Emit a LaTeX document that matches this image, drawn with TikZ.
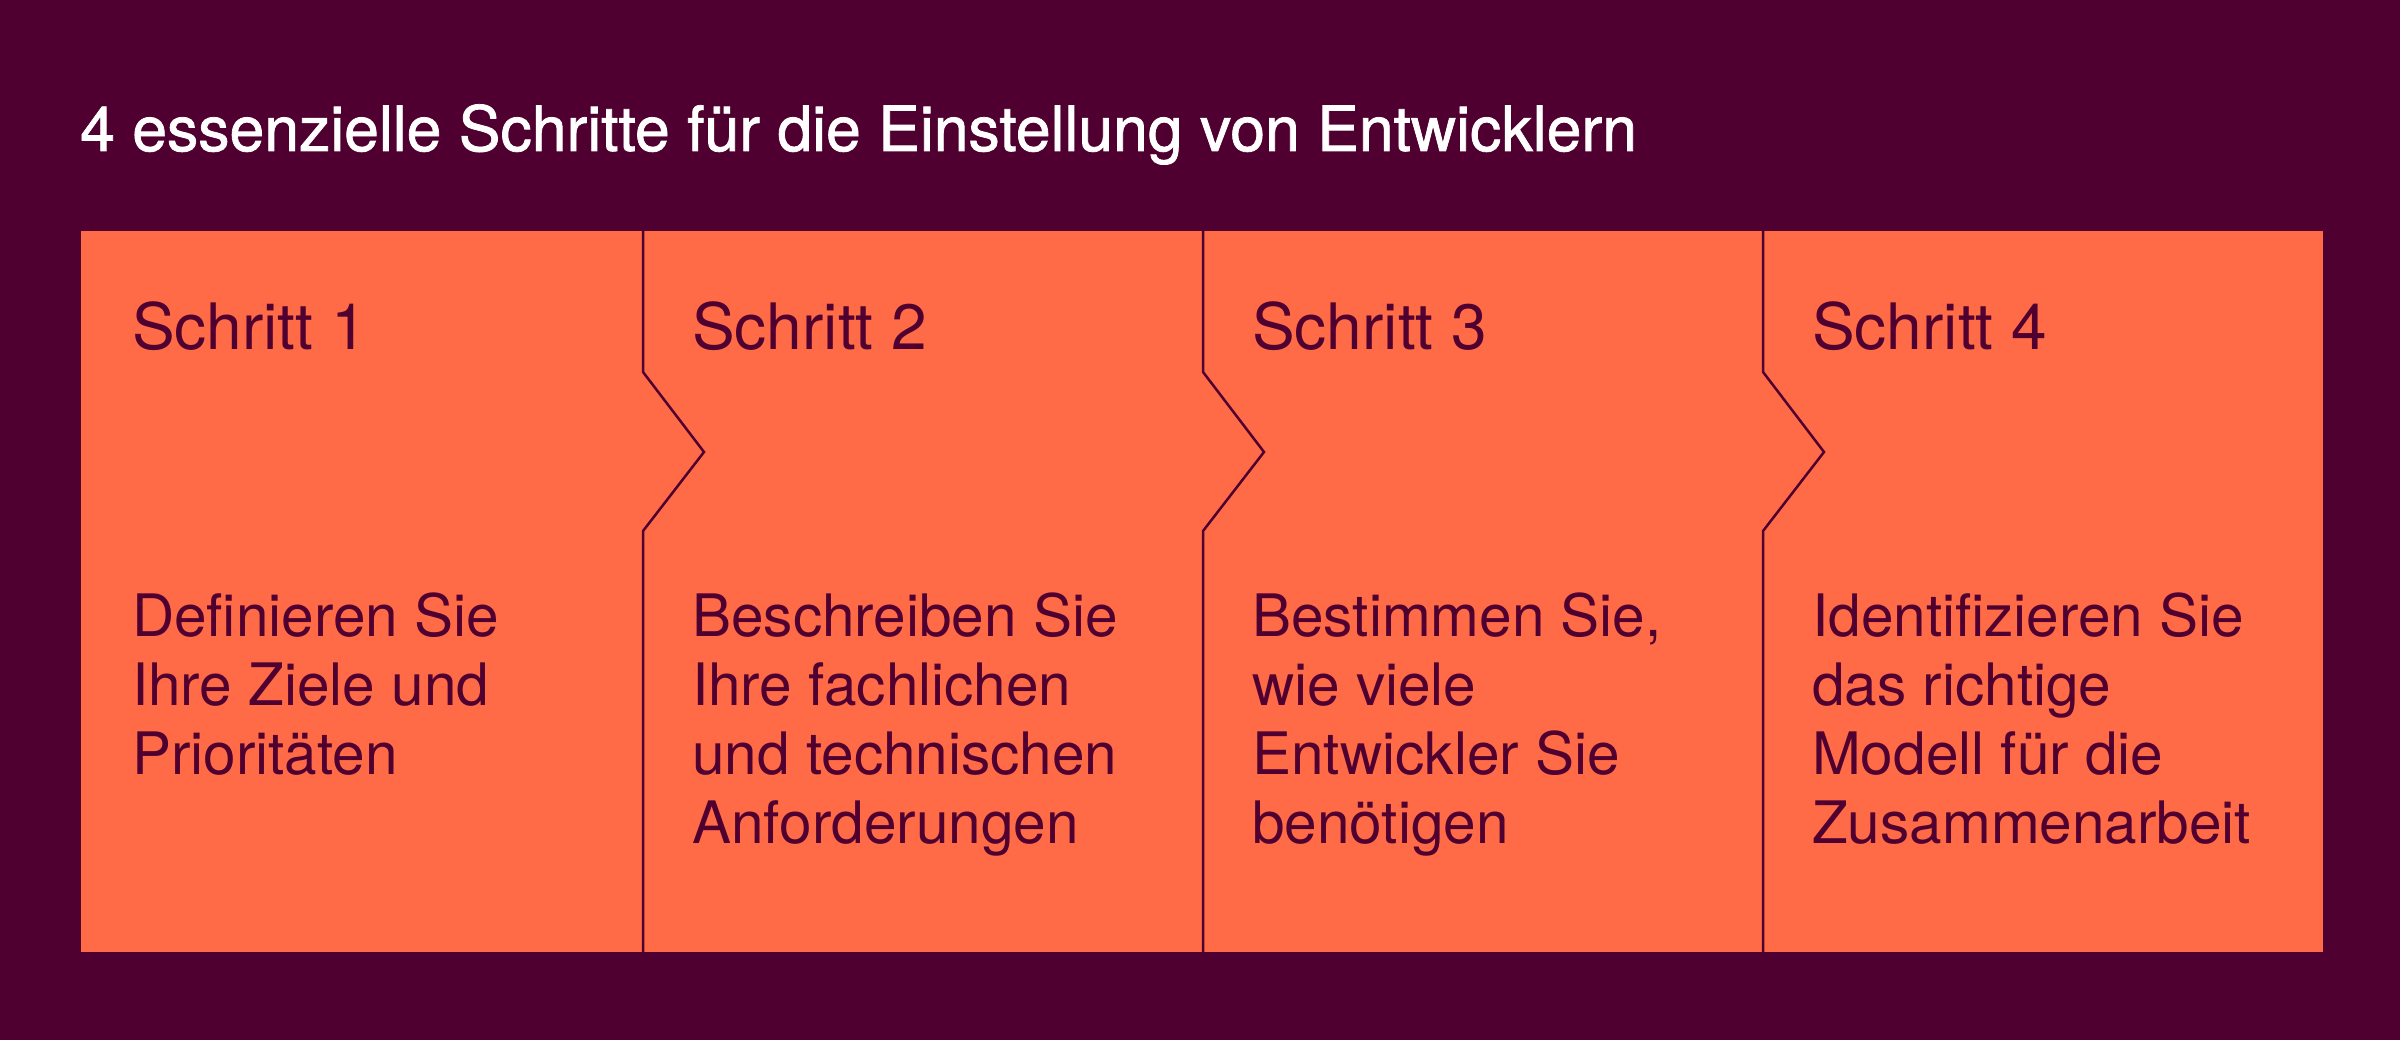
\documentclass[tikz,border=0pt]{standalone}
\usepackage{fontspec}
\setmainfont{TeX Gyre Heros}
\newfontfamily\titlefamily[FakeBold=1.2]{TeX Gyre Heros}
\definecolor{bgpurple}{HTML}{500030}
\definecolor{stepfill}{HTML}{FF6B47}
\tikzset{
  titletext/.style={anchor=base west, inner sep=0pt, text=white, font=\titlefamily\fontsize{62.5}{75}\selectfont},
  heading/.style={anchor=base west, inner sep=0pt, text=bgpurple, font=\fontsize{64}{76}\selectfont},
  bodyblock/.style={anchor=base west, inner sep=0pt, text=bgpurple},
  divider/.style={draw=bgpurple, line width=2.5pt, line join=miter}
}
\newcommand{\stepbody}[1]{\parbox[t]{540pt}{\raggedright\fontsize{58.5}{69}\selectfont #1}}
\begin{document}
\begin{tikzpicture}[x=1pt,y=-1pt]
  \useasboundingbox (0,0) rectangle (2400,1040);
  \fill[bgpurple] (0,0) rectangle (2400,1040);
  \fill[stepfill] (81,231) rectangle (2323,952);
  \node[titletext] (title) at (80,151) {4 essenzielle Schritte für die Einstellung von Entwicklern};
  % dividers with chevrons
  \foreach \x in {643,1203,1763} {
    \draw[divider] (\x,231) -- (\x,372) -- (\x+61,452) -- (\x,531) -- (\x,952);
  }
  % headings
  \node[heading] (h1) at (132,349) {Schritt 1};
  \node[heading] (h2) at (692,349) {Schritt 2};
  \node[heading] (h3) at (1252,349) {Schritt 3};
  \node[heading] (h4) at (1812,349) {Schritt 4};
  % bodies
  \node[bodyblock] (b1) at (132,636) {\stepbody{Definieren Sie\\Ihre Ziele und\\Prioritäten}};
  \node[bodyblock] (b2) at (692,636) {\stepbody{Beschreiben Sie\\Ihre fachlichen\\und technischen\\Anforderungen}};
  \node[bodyblock] (b3) at (1252,636) {\stepbody{Bestimmen Sie,\\wie viele\\Entwickler Sie\\benötigen}};
  \node[bodyblock] (b4) at (1812,636) {\stepbody{Identifizieren Sie\\das richtige\\Modell für die\\Zusammenarbeit}};
\end{tikzpicture}
\end{document}
